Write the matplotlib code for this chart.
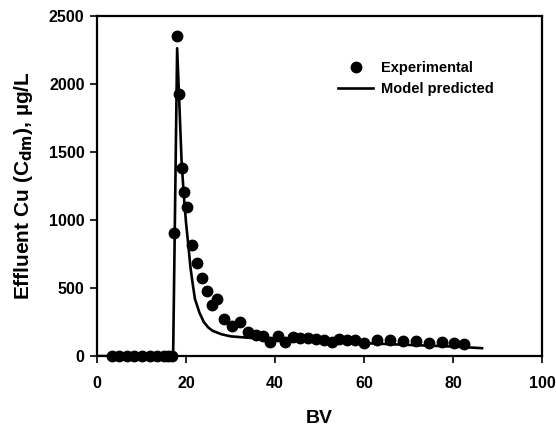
import matplotlib
matplotlib.use("Agg")
import matplotlib.pyplot as plt

plt.rcParams['font.family'] = ['Liberation Sans', 'DejaVu Sans']
plt.rcParams['font.weight'] = 'bold'

# Experimental data
exp_bv = [3.3, 5.0, 6.7, 8.4, 10.1, 11.8, 13.5, 15.0, 16.0, 16.8,
          17.3, 17.9, 18.5, 19.1, 19.55, 20.15, 21.4, 22.5, 23.6, 24.6,
          25.8, 27.0, 28.6, 30.4, 32.2, 34.0, 35.7, 37.3, 38.9, 40.7,
          42.3, 44.1, 45.7, 47.4, 49.2, 51.0, 52.7, 54.4, 56.1, 58.0,
          60.0, 63.0, 65.9, 68.7, 71.6, 74.5, 77.5, 80.1, 82.4]
exp_cu = [0, 0, 0, 0, 0, 0, 0, 0, 0, 0,
          907, 2353, 1924, 1385, 1208, 1093, 816, 681, 571, 480,
          375, 417, 272, 218, 252, 179, 157, 150, 100, 145,
          103, 137, 130, 130, 125, 118, 105, 122, 118, 118,
          98, 118, 118, 113, 113, 93, 105, 98, 88]

# Model predicted curve
model_bv = [0, 17.0, 17.1, 18.0, 18.5, 19.0, 19.5, 20.0, 20.5, 21.0,
            21.5, 22.0, 23.0, 24.0, 25.0, 26.0, 28.0, 30.0, 33.0, 36.0,
            40.0, 50.0, 60.0, 70.0, 80.0, 86.5]
model_cu = [0, 0, 0, 2262, 1850, 1430, 1180, 980, 820, 650,
            530, 420, 320, 250, 210, 185, 160, 145, 137, 130,
            124, 110, 95, 82, 70, 58]

x_ticks = [0, 20, 40, 60, 80, 100]
y_ticks = [0, 500, 1000, 1500, 2000, 2500]

fig = plt.figure(figsize=(5.56, 4.29), dpi=100)
ax = fig.add_axes([0.1745, 0.170, 0.8005, 0.793])

ax.plot(model_bv, model_cu, color='black', lw=1.9, label='Model predicted', zorder=2)
ax.plot(exp_bv, exp_cu, 'o', color='black', ms=7.5, label='Experimental', zorder=3,
        clip_on=False)

ax.set_xlim(0, 100)
ax.set_ylim(0, 2500)
ax.set_xticks(x_ticks)
ax.set_yticks(y_ticks)
ax.tick_params(direction='out', length=5, width=1.2, labelsize=11.5)
ax.tick_params(axis='x', pad=9)
ax.tick_params(axis='y', pad=4)
for lab in ax.get_xticklabels() + ax.get_yticklabels():
    lab.set_fontweight('bold')
for s in ax.spines.values():
    s.set_linewidth(1.6)

ax.set_xlabel('BV', fontsize=14, fontweight='bold', labelpad=14)
ax.set_ylabel(r'Effluent Cu (C$_{\mathbf{dm}}$), µg/L', fontsize=15, fontweight='bold', labelpad=10)

h, l = ax.get_legend_handles_labels()
leg = ax.legend([h[1], h[0]], [l[1], l[0]], loc='upper left', bbox_to_anchor=(0.542, 0.867),
                frameon=False, handlelength=2.4, handletextpad=0.55,
                labelspacing=0.49, borderpad=0, borderaxespad=0,
                prop={'weight': 'bold', 'size': 10.5})

fig.savefig('out.png', dpi=100)
